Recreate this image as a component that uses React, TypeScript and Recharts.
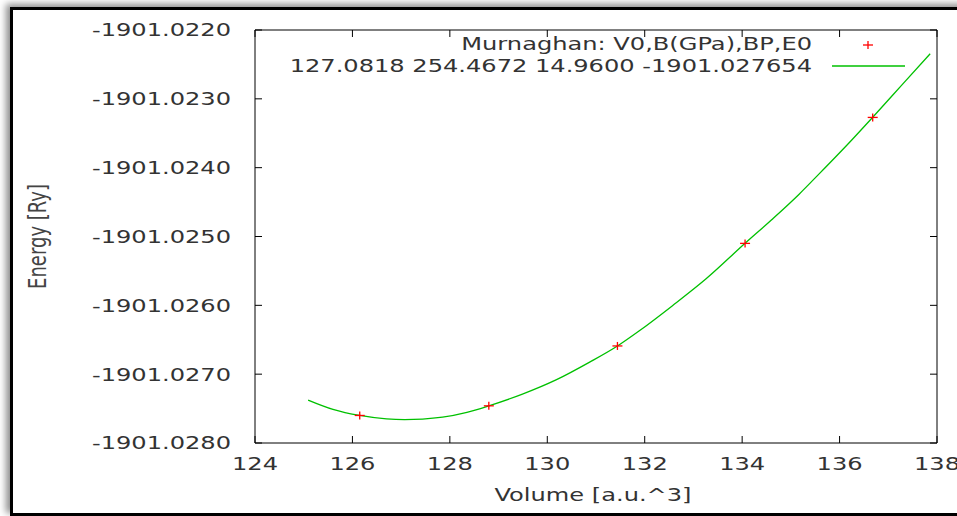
import React from "react";
import { ComposedChart, Line, Scatter, XAxis, YAxis } from "recharts";

// axis ticks
const xTicks = [124, 126, 128, 130, 132, 134, 136, 138];
const yTicks = [-1901.028, -1901.027, -1901.026, -1901.025, -1901.024, -1901.023, -1901.022];

// measured energies (red crosses)
const pointV = [126.15, 128.8, 131.44, 134.06, 136.68];
const pointE = [-1901.0276, -1901.02746, -1901.02659, -1901.0251, -1901.02327];

// fitted curve
const curveV = [
  125.09, 125.6, 126.15, 126.7, 127.07, 127.44, 127.85, 128.35, 128.8, 129.49, 130.19, 130.87,
  131.44, 131.89, 132.57, 133.26, 134.06, 134.6, 135.17, 135.58, 136.26, 136.69, 137.29, 137.86,
];
const curveE = [
  -1901.027376, -1901.027511, -1901.0276, -1901.02765, -1901.027659, -1901.027652, -1901.027625,
  -1901.027555, -1901.02746, -1901.02729, -1901.02708, -1901.026825, -1901.026591, -1901.02637,
  -1901.026005, -1901.025615, -1901.025099, -1901.02476, -1901.024385, -1901.02409, -1901.02359,
  -1901.02326, -1901.02279, -1901.022345,
];

const legendTitle = "Murnaghan: V0,B(GPa),BP,E0";
const legendFit = "127.0818 254.4672 14.9600 -1901.027654";
const xTitle = "Volume [a.u.^3]";
const yTitle = "Energy [Ry]";

const points = pointV.map((v, i) => ({ v, e: pointE[i] }));
const curve = curveV.map((v, i) => ({ v, e: curveE[i] }));

const FONT = "'DejaVu Sans', Verdana, sans-serif";
const SX = 1.34; // the picture's text is stretched sideways
const INK = "#333";
const GREEN = "#00c000";
const RED = "#ff0000";

function YTick({ x, y, payload }: any) {
  return (
    <text transform={`translate(${x},${y}) scale(${SX},1)`} textAnchor="end" dy="0.36em"
      fontFamily={FONT} fontSize={18} fill={INK}>
      {Number(payload.value).toFixed(4)}
    </text>
  );
}

function XTick({ x, y, payload }: any) {
  return (
    <text transform={`translate(${x},${y}) scale(${SX},1)`} textAnchor="middle" dy="0.71em"
      fontFamily={FONT} fontSize={18} fill={INK}>
      {payload.value}
    </text>
  );
}

const NoTick = () => <g />;

function XLabel() {
  return (
    <text transform={`translate(593,501) scale(${SX},1)`} textAnchor="middle"
      fontFamily={FONT} fontSize={18} fill={INK}>
      {xTitle}
    </text>
  );
}

function YLabel() {
  return (
    <text transform={`translate(37,236.5) scale(${SX},1) rotate(-90)`} textAnchor="middle" dy="0.36em"
      fontFamily={FONT} fontSize={18} fill="#444">
      {yTitle}
    </text>
  );
}

const Cross = (p: any) => (
  <g stroke={RED} strokeWidth={1.3}>
    <line x1={p.cx - 5} y1={p.cy} x2={p.cx + 5} y2={p.cy} />
    <line x1={p.cx} y1={p.cy - 4} x2={p.cx} y2={p.cy + 4} />
  </g>
);

const axisStroke = { stroke: "#000", strokeWidth: 1 };

export default function App() {
  return (
    <div style={{ position: "absolute", left: 0, top: 0, width: 957, height: 516, overflow: "hidden", background: "#fff" }}>
      <div style={{
        position: "absolute", left: 10, top: 7, width: 1000, height: 509, boxSizing: "border-box",
        border: "3px solid #000", boxShadow: "-4px -3px 7px rgba(0,0,0,0.45)", background: "#fff",
      }} />
      <div style={{ position: "absolute", left: 0, top: 0 }}>
        <ComposedChart width={957} height={516} margin={{ top: 0, right: 19, bottom: 0, left: 0 }}>
          <XAxis xAxisId="b" dataKey="v" type="number" orientation="bottom" domain={[124, 138]} ticks={xTicks}
            interval={0} allowDataOverflow height={73} tickSize={-7} tickMargin={21} tick={<XTick />}
            axisLine={axisStroke} tickLine={axisStroke} label={<XLabel />} />
          <XAxis xAxisId="t" dataKey="v" type="number" orientation="top" domain={[124, 138]} ticks={xTicks}
            interval={0} allowDataOverflow height={30} tickSize={-7} tick={NoTick}
            axisLine={axisStroke} tickLine={axisStroke} />
          <YAxis yAxisId="l" type="number" orientation="left" domain={[-1901.028, -1901.022]} ticks={yTicks}
            interval={0} allowDataOverflow width={255} tickSize={-7} tickMargin={31} tick={<YTick />}
            axisLine={axisStroke} tickLine={axisStroke} label={<YLabel />} />
          <YAxis yAxisId="r" type="number" orientation="right" domain={[-1901.028, -1901.022]} ticks={yTicks}
            interval={0} allowDataOverflow width={1} tickSize={-7} tick={NoTick}
            axisLine={axisStroke} tickLine={axisStroke} />
          <Line xAxisId="b" yAxisId="l" data={curve} dataKey="e" type="monotone" stroke={GREEN}
            strokeWidth={1.3} dot={false} isAnimationActive={false} />
          <Scatter xAxisId="b" yAxisId="l" data={points} dataKey="e" shape={Cross} isAnimationActive={false} />
        </ComposedChart>
      </div>
      <svg width={957} height={516} style={{ position: "absolute", left: 0, top: 0, pointerEvents: "none" }}>
        <text transform={`translate(812,44) scale(${SX},1)`} textAnchor="end" dy="0.36em"
          fontFamily={FONT} fontSize={18} fill={INK}>{legendTitle}</text>
        <text transform={`translate(812,66) scale(${SX},1)`} textAnchor="end" dy="0.36em"
          fontFamily={FONT} fontSize={18} fill={INK}>{legendFit}</text>
        <Cross cx={868} cy={45} />
        <line x1={832} y1={66} x2={905} y2={66} stroke={GREEN} strokeWidth={1.3} />
      </svg>
    </div>
  );
}
